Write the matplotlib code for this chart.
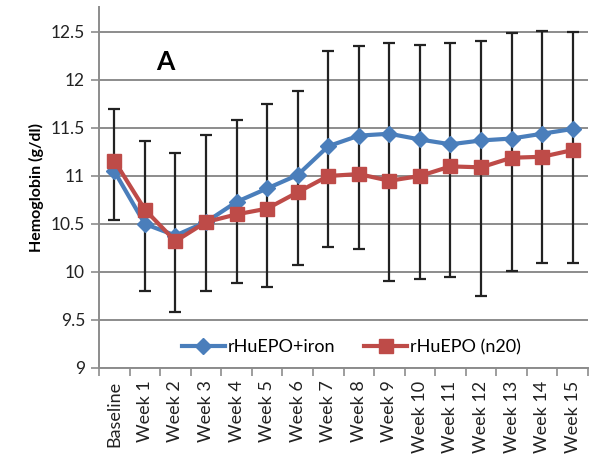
import numpy as np
import matplotlib.pyplot as plt

plt.rcParams['font.family'] = ['Lato', 'DejaVu Sans']

# Данные
categories = ['Baseline'] + ['Week %d' % i for i in range(1, 16)]
epo_iron = [11.05, 10.50, 10.38, 10.52, 10.73, 10.87, 11.01, 11.31, 11.42,
            11.44, 11.38, 11.33, 11.37, 11.39, 11.44, 11.49]
epo_only = [11.16, 10.65, 10.32, 10.52, 10.60, 10.66, 10.83, 11.00, 11.02,
            10.95, 11.00, 11.10, 11.09, 11.19, 11.20, 11.27]
# концы планок погрешностей
err_top = [11.70, 11.36, 11.24, 11.43, 11.58, 11.75, 11.89, 12.30, 12.35,
           12.38, 12.36, 12.38, 12.41, 12.49, 12.51, 12.50]
err_bottom = [10.54, 9.80, 9.58, 9.80, 9.89, 9.84, 10.07, 10.26, 10.24,
              9.91, 9.93, 9.95, 9.75, 10.01, 10.09, 10.09]
yticks = [9, 9.5, 10, 10.5, 11, 11.5, 12, 12.5]

blue = '#4a7ebb'
red = '#be4b48'

fig = plt.figure(figsize=(5.89, 4.55), dpi=100)
ax = fig.add_axes([99 / 589, 1 - 368 / 455, 489 / 589, 361 / 455])

x = np.arange(len(categories))

# планки погрешностей
lo = np.array(err_bottom)
hi = np.array(err_top)
ax.errorbar(x, lo, yerr=[np.zeros_like(lo), hi - lo], fmt='none',
            ecolor='#222222', elinewidth=1.6, capsize=4, capthick=1.6, zorder=2)

ax.plot(x, epo_iron, color=blue, lw=3, marker='D', ms=8.5, mec=blue,
        label='rHuEPO+iron', zorder=3)
ax.plot(x, epo_only, color=red, lw=3, marker='s', ms=10.5, mec=red,
        label='rHuEPO (n20)', zorder=4)

ax.set_xlim(-0.5, len(categories) - 0.5)
ax.set_ylim(9, 12.76)
ax.set_yticks(yticks)
ax.set_yticklabels(['9', '9.5', '10', '10.5', '11', '11.5', '12', '12.5'])
ax.grid(axis='y', color='#8c8c8c', lw=1.4)
ax.set_axisbelow(True)

ax.set_xticks(x)
ax.set_xticklabels(categories, rotation=90)
ax.set_xticks(np.arange(len(categories) + 1) - 0.5, minor=True)
ax.tick_params(axis='x', which='major', length=0, pad=9, labelsize=13,
               colors='#222222')
ax.tick_params(axis='x', which='minor', length=6, width=1.2, color='#8c8c8c',
               direction='out')
ax.tick_params(axis='y', length=6, width=1.2, color='#8c8c8c', pad=4,
               labelsize=12.5, labelcolor='#222222')

for s in ['top', 'right']:
    ax.spines[s].set_visible(False)
ax.spines['left'].set_color('#8c8c8c')
ax.spines['bottom'].set_color('#8c8c8c')
ax.spines['left'].set_linewidth(1.4)
ax.spines['bottom'].set_linewidth(1.4)

ax.set_ylabel('Hemoglobin (g/dl)', fontsize=11.5, fontweight='bold', labelpad=5)
ax.text(1.66, 12.19, 'A', fontsize=19, fontweight='bold', ha='center', va='center')

ax.legend(loc='center', bbox_to_anchor=(0.516, 0.058), ncol=2, frameon=True,
          framealpha=1, edgecolor='white', fontsize=13, handlelength=2.4,
          columnspacing=1.6, handletextpad=0.15, borderpad=0.3)

fig.savefig('out.png', dpi=100)
